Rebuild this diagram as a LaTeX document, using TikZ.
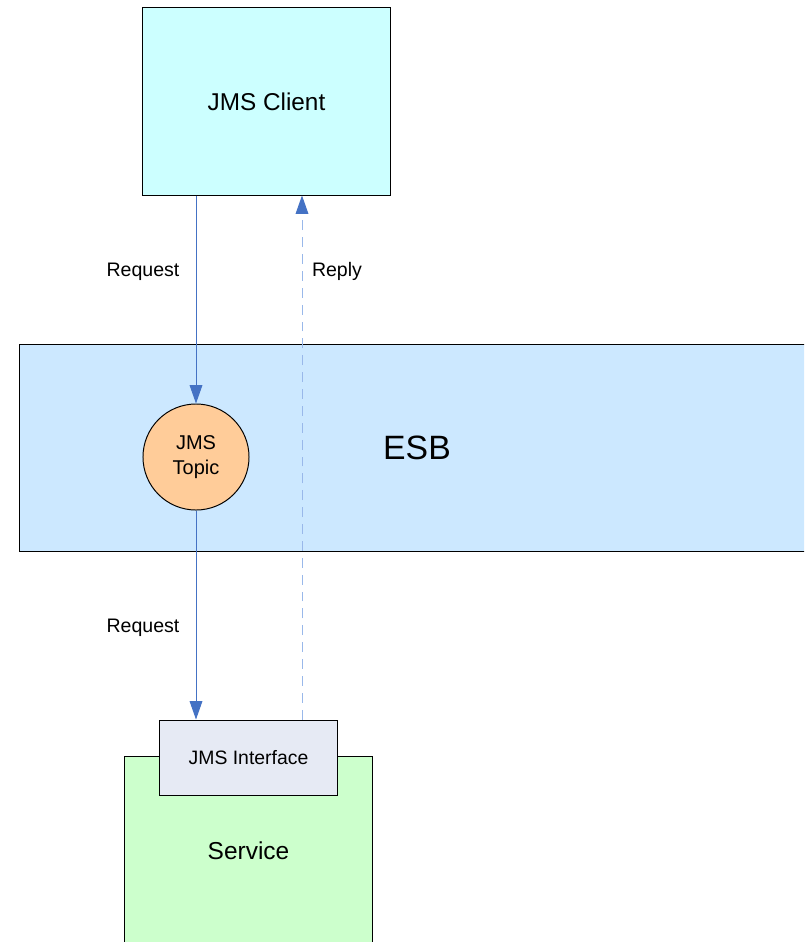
\documentclass[tikz,border=0pt]{standalone}
\usepackage{fontspec}
\setmainfont{Liberation Sans}
\usetikzlibrary{arrows.meta,positioning}
\definecolor{cClient}{HTML}{CCFFFF}
\definecolor{cEsb}{HTML}{CCE8FF}
\definecolor{cTopic}{HTML}{FFCC99}
\definecolor{cIface}{HTML}{E6EAF4}
\definecolor{cServ}{HTML}{CCFFCC}
\definecolor{cArr}{HTML}{4472C4}
\definecolor{cDash}{HTML}{99B8EA}
\tikzset{
  blk/.style={rectangle,draw=black,line width=0.7pt,inner sep=0pt,align=center},
  topicnode/.style={circle,draw=black,line width=0.7pt,fill=cTopic,
              minimum size=2.65cm,inner sep=0pt,align=center,
              font=\fontsize{14.2}{17.5}\selectfont},
  lbl/.style={inner sep=0pt,font=\fontsize{13.9}{16}\selectfont},
  reqarrow/.style={-{Triangle[length=13pt,width=9pt]},line width=0.7pt,cArr},
  reparrow/.style={-{Triangle[length=13pt,width=9pt,color=cArr]},line width=0.7pt,
              cDash,dash pattern=on 7pt off 5pt},
}

\begin{document}
\begin{tikzpicture}[x=0.025cm,y=-0.025cm]
  \useasboundingbox (0,0) rectangle (804,942);
  \clip (0,0) rectangle (804,942);
  % boxes
  \node[blk,fill=cClient,minimum width=6.175cm,minimum height=4.675cm,
        font=\fontsize{17.3}{20}\selectfont] (client) at (266.5,101.5){JMS Client};
  \node[blk,fill=cEsb,minimum width=19.85cm,minimum height=5.15cm,
        font=\fontsize{24}{28}\selectfont] (esb) at (417,448){ESB};
  \node[topicnode] (topic) at (196,457){JMS\\Topic};
  \node[blk,fill=cServ,minimum width=6.175cm,minimum height=4.7cm,
        font=\fontsize{17.4}{20}\selectfont] (service) at (248.5,851){Service};
  \node[blk,fill=cIface,minimum width=4.425cm,minimum height=1.875cm,
        font=\fontsize{13.8}{16}\selectfont] (iface) at (248.5,757.5){JMS Interface};
  \coordinate (rx) at (302,0);
  % flows
  \draw[reqarrow] (client.south -| topic) -- (topic.north);
  \draw[reqarrow] (topic.south) -- (topic.south |- iface.north);
  \draw[reparrow] (iface.north -| rx) -- (client.south -| rx);
  \node[lbl] (req1) at (143,271.5){Request};
  \node[lbl] (req2) at (143,627.5){Request};
  \node[lbl] (rep) at (337,271.5){Reply};
\end{tikzpicture}
\end{document}
